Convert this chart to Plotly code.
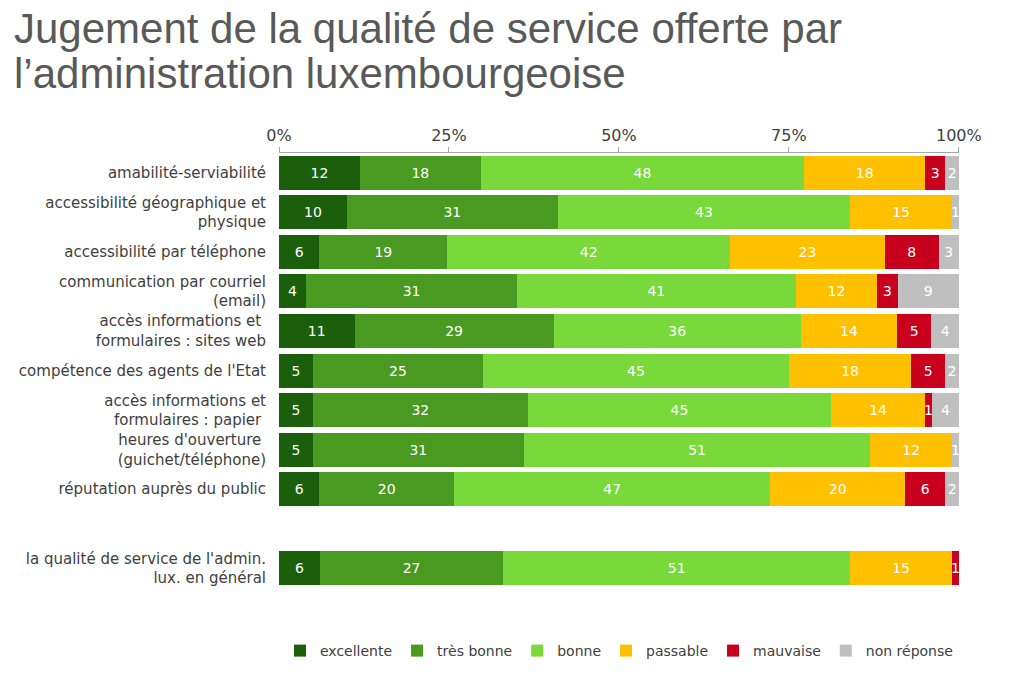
import plotly.graph_objects as go

categories = [
    "amabilité-serviabilité",
    "accessibilité géographique et<br>physique",
    "accessibilité par téléphone",
    "communication par courriel<br>(email)",
    "accès informations et <br>formulaires : sites web",
    "compétence des agents de l'Etat",
    "accès informations et<br>formulaires : papier ",
    "heures d'ouverture <br>(guichet/téléphone)",
    "réputation auprès du public",
    "la qualité de service de l'admin.<br>lux. en général",
]
positions = [0, 1, 2, 3, 4, 5, 6, 7, 8, 10]

series_names = ["excellente", "très bonne", "bonne", "passable", "mauvaise", "non réponse"]
excellente = [12, 10, 6, 4, 11, 5, 5, 5, 6, 6]
tres_bonne = [18, 31, 19, 31, 29, 25, 32, 31, 20, 27]
bonne = [48, 43, 42, 41, 36, 45, 45, 51, 47, 51]
passable = [18, 15, 23, 12, 14, 18, 14, 12, 20, 15]
mauvaise = [3, 0, 8, 3, 5, 5, 1, 0, 6, 1]
non_reponse = [2, 1, 3, 9, 4, 2, 4, 1, 2, 0]
series_values = [excellente, tres_bonne, bonne, passable, mauvaise, non_reponse]
colors = ["#1b5e0b", "#4a9a22", "#79d83a", "#ffc000", "#c8001e", "#bfbfbf"]

tick_vals = [0, 25, 50, 75, 100]
tick_text = ["0%", "25%", "50%", "75%", "100%"]

title_lines = ["Jugement de la qualité de service offerte par",
               "l’administration luxembourgeoise"]

fig = go.Figure()
for name, vals, col in zip(series_names, series_values, colors):
    fig.add_trace(go.Bar(
        y=positions, x=vals, name=name, orientation="h",
        marker=dict(color=col, line=dict(width=0)),
        text=[str(v) if v > 0 else "" for v in vals],
        textposition="inside", insidetextanchor="middle",
        textfont=dict(color="white", size=14, family="DejaVu Sans"),
        cliponaxis=False,
    ))

H = 678.0
for line, ypx in zip(title_lines, [28, 73]):
    fig.add_annotation(
        text=line, xref="paper", yref="paper",
        x=(12 - 279) / 680.0, y=(H - 90 - ypx) / (H - 153 - 90),
        xanchor="left", yanchor="middle", showarrow=False,
        font=dict(family="Liberation Sans", size=42, color="#595959"),
    )

fig.update_layout(
    barmode="stack", barnorm="percent", bargap=0.14,
    width=1024, height=678,
    margin=dict(l=279, r=65, t=153, b=90),
    paper_bgcolor="white", plot_bgcolor="white",
    uniformtext=dict(minsize=14, mode="show"),
    legend=dict(
        orientation="h", x=0.5, xanchor="center", xref="paper",
        y=1 - 651 / H, yref="container", yanchor="middle",
        font=dict(family="DejaVu Sans", size=14, color="#404040"),
        traceorder="normal", itemwidth=30,
    ),
    showlegend=True,
)
fig.update_xaxes(
    range=[0, 100.02], side="top", tickvals=tick_vals, ticktext=tick_text,
    showgrid=False, zeroline=False, showline=True, linecolor="#a6a6a6", linewidth=1,
    ticks="outside", ticklen=5, tickcolor="#a6a6a6",
    tickfont=dict(family="DejaVu Sans", size=16, color="#404040"),
)
fig.update_yaxes(
    range=[10.5, -0.5], tickvals=positions, ticktext=categories,
    showgrid=False, zeroline=False, showline=False, ticks="",
    ticklabelstandoff=12,
    tickfont=dict(family="DejaVu Sans", size=15, color="#404040"),
)
fig.write_html("out.html", config={"displayModeBar": False},
               post_script="document.body.style.margin='0';")
